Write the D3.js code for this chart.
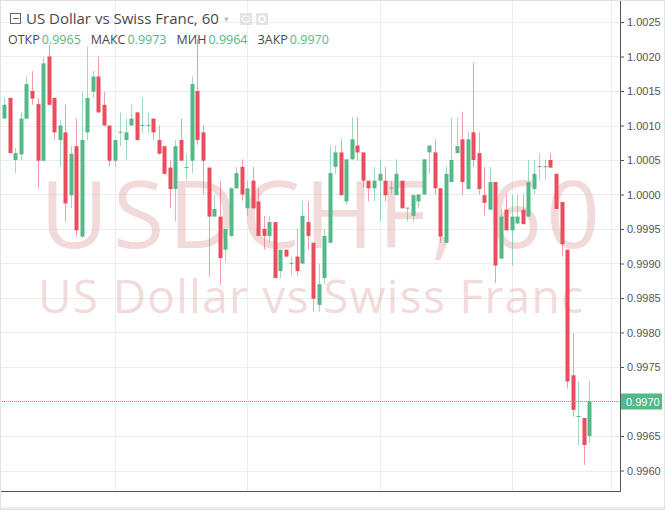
<!DOCTYPE html>
<html>
<head>
<meta charset="utf-8">
<script src="https://cdn.jsdelivr.net/npm/d3@7"></script>
<style>
  body { margin: 0; background: #fff; }
  svg { display: block; }
</style>
</head>
<body>
<div id="chart"></div>
<script>
// hourly USDCHF candles
const opens = [1.0011,1.0014,1.0005,1.00058,1.0011,1.0015,1.00131,1.00049,1.0020,1.0014,
  1.00079,1.0009,0.99999,1.0007,0.99939,1.0009,1.00149,1.00171,1.0013,1.0010,
  1.00049,1.0009,1.00079,1.0010,1.00119,1.0010,1.0010,1.0011,1.00079,1.0007,
  1.00039,1.00008,1.00079,1.00039,1.00049,1.0015,1.0009,1.00039,0.99968,0.99968,
  0.9992,0.9994,1.00009,1.0004,0.9998,1.0002,0.9999,0.9995,0.9994,0.9996,
  0.99889,0.9992,0.9990,0.9991,0.9990,0.9996,0.9993,0.9984,0.99879,0.9993,
  1.0004,1.00061,0.9999,1.00051,1.00071,1.00061,1.0002,1.00009,1.0002,1.0002,
  1.00009,0.99999,1.0002,0.9998,0.99969,0.9999,1.0,1.00061,1.00061,1.00009,
  0.9993,1.00018,1.0006,1.0008,1.00008,1.0009,1.0006,0.99999,0.99978,1.00018,
  0.99907,0.99978,0.99948,0.99958,0.99978,0.99968,1.00008,1.0004,1.0004,1.0005,
  1.0003,0.99989,0.9992,0.99738,0.99678,0.99676,0.9965];
const highs = [1.0014,1.0014,1.00068,1.0012,1.00171,1.00179,1.0014,1.00199,1.00217,1.0014,
  1.00108,1.0013,1.0007,1.0011,1.00149,1.00214,1.00179,1.0020,1.00149,1.0010,
  1.0008,1.00119,1.0011,1.0013,1.00119,1.0014,1.00119,1.0011,1.0010,1.0007,
  1.0005,1.00079,1.0011,1.00059,1.00171,1.00225,1.0010,1.00039,1.0000,1.0002,
  0.9995,1.0001,1.0004,1.00051,1.0002,1.0004,1.00009,0.99969,0.99969,0.9996,
  0.9992,0.9992,0.9991,0.9995,0.99991,0.9999,0.9993,0.9990,0.9995,1.00071,
  1.00071,1.0008,1.0005,1.00112,1.00112,1.00061,1.0002,1.0004,1.00051,1.0004,
  1.0002,1.00051,1.0002,0.9998,1.0,1.0,1.00051,1.00071,1.0008,1.00009,
  1.00041,1.00111,1.00111,1.0012,1.00091,1.00191,1.0009,1.0004,1.0004,1.00018,
  0.99979,1.0,1.0,1.0,1.0,1.0005,1.0005,1.0006,1.0005,1.0006,
  1.0003,0.99989,0.9992,0.99799,0.99729,0.99676,0.9973];
const lows = [1.0011,1.0006,1.00031,1.0005,1.00109,1.0013,1.00009,1.00048,1.00129,1.00079,
  1.00041,0.99961,0.9998,0.99939,0.99937,1.00079,1.0014,1.00118,1.00099,1.00041,
  1.0004,1.0007,1.0005,1.0010,1.00078,1.00089,1.00089,1.00079,1.00058,1.00029,
  0.9998,0.99961,1.00049,1.0002,1.00031,1.00072,1.0000,0.99881,0.99968,0.99869,
  0.99901,0.99938,1.00008,0.99991,0.99969,0.9998,0.9994,0.9992,0.9993,0.99879,
  0.99879,0.9991,0.99882,0.99882,0.99899,0.9992,0.9983,0.9983,0.9987,0.9993,
  1.0003,1.0,0.99985,1.0005,1.00049,1.0001,0.9999,0.9999,0.99961,0.9999,
  1.0,0.99999,0.9998,0.99961,0.99961,0.9998,1.0,1.0003,1.0,0.9993,
  0.9993,1.00018,1.0006,0.99999,1.00008,1.0004,1.0,0.9997,0.99978,0.99872,
  0.99907,0.99948,0.99897,0.99957,0.99957,0.99968,1.0,1.00021,1.00021,1.00039,
  0.99979,0.9991,0.99719,0.99678,0.99637,0.99608,0.9964];
const closes = [1.0013,1.0006,1.0006,1.0011,1.0016,1.00139,1.00049,1.0019,1.0013,1.0009,
  1.0010,0.99987,1.00059,0.99948,1.00079,1.0014,1.00171,1.00119,1.0010,1.00049,
  1.00079,1.00091,1.0009,1.0011,1.00079,1.00101,1.00101,1.0009,1.00059,1.0003,
  1.00008,1.0007,1.00049,1.0004,1.0016,1.00079,1.00049,0.99968,0.99979,0.99908,
  0.9995,1.00009,1.00031,1.0000,1.00009,0.9998,0.9994,0.9994,0.9996,0.99879,
  0.9992,0.9991,0.99901,0.99889,0.99969,0.9994,0.99849,0.9987,0.9994,1.00031,
  1.00061,0.99999,1.00051,1.0008,1.00061,1.0002,1.00009,1.0002,1.0003,0.99999,
  1.0001,1.0003,0.9998,0.99981,0.99999,1.0,1.00051,1.00071,1.00009,0.99939,
  1.0003,1.0005,1.0007,1.00018,1.0008,1.0005,1.00008,0.99988,1.00018,0.99897,
  0.99968,0.99948,0.99968,0.99968,0.99957,1.00018,1.0003,1.00041,1.00041,1.00039,
  0.99979,0.99928,0.99729,0.99688,0.99679,0.99637,0.9970];

const timeTickIdx = [20, 44, 68, 92, 110];
const timeTickLabels = ["22", "25", "26", "27", "18:00"];
const priceTicks = [0.9960,0.9965,0.9970,0.9975,0.9980,0.9985,0.9990,0.9995,
  1.0000,1.0005,1.0010,1.0015,1.0020,1.0025];
const legendNames = ["ОТКР", "МАКС", "МИН", "ЗАКР"];
const legendValues = ["0.9965", "0.9973", "0.9964", "0.9970"];
const lastPrice = 0.9970;

const width = 665, height = 510;
const paneW = 620, paneH = 491;
const up = "#53b987", down = "#eb4d5c";

const candles = opens.map((o, i) => ({ i, o, h: highs[i], l: lows[i], c: closes[i] }));

const svg = d3.select("#chart").append("svg").attr("width", width).attr("height", height)
  .style("font-family", "'Liberation Sans', Arial, sans-serif");

const x = d3.scaleLinear().domain([-0.8, 111.6]).range([0, paneW]);
const y = d3.scaleLinear().domain([0.9960, 1.0025]).range([470.5, 22]);

const defs = svg.append("defs");
defs.append("clipPath").attr("id", "pane")
  .append("rect").attr("width", paneW).attr("height", paneH);
defs.append("clipPath").attr("id", "timeclip")
  .append("rect").attr("x", 0).attr("y", paneH - 5).attr("width", paneW).attr("height", 30);

// grid
const grid = svg.append("g").attr("stroke", "#e9eef2").attr("shape-rendering", "crispEdges");
grid.selectAll(".h").data(priceTicks).enter().append("line")
  .attr("x1", 0).attr("x2", paneW)
  .attr("y1", d => Math.round(y(d)) + 0.5).attr("y2", d => Math.round(y(d)) + 0.5);
grid.selectAll(".v").data(timeTickIdx).enter().append("line")
  .attr("y1", 0).attr("y2", paneH)
  .attr("x1", d => Math.round(x(d)) + 0.5).attr("x2", d => Math.round(x(d)) + 0.5);

// watermark
const wm = svg.append("g").attr("fill", "#e8bcbc").attr("fill-opacity", 0.55)
  .style("font-family", "'Open Sans', sans-serif");
wm.append("text").attr("x", 40).attr("y", 248).attr("font-size", 94)
  .attr("textLength", 560).attr("lengthAdjust", "spacing").text("USDCHF, 60");
wm.append("text").attr("x", 38).attr("y", 313).attr("font-size", 46)
  .attr("textLength", 545).attr("lengthAdjust", "spacing").text("US Dollar vs Swiss Franc");

// candles
const bw = 4;
const cg = svg.append("g").attr("clip-path", "url(#pane)");
cg.selectAll(".wick").data(candles).enter().append("line")
  .attr("x1", d => Math.round(x(d.i)) + 0.5).attr("x2", d => Math.round(x(d.i)) + 0.5)
  .attr("y1", d => y(d.h)).attr("y2", d => y(d.l))
  .attr("stroke", d => d.c >= d.o ? up : down).attr("stroke-opacity", 0.55);
cg.selectAll(".body").data(candles).enter().append("rect")
  .attr("x", d => Math.round(x(d.i)) - bw / 2 + 0.5)
  .attr("width", bw)
  .attr("y", d => y(Math.max(d.o, d.c)))
  .attr("height", d => Math.max(1, Math.abs(y(d.o) - y(d.c))))
  .attr("fill", d => d.c >= d.o ? up : down);

// last price line
svg.append("line").attr("x1", 0).attr("x2", paneW)
  .attr("y1", Math.round(y(lastPrice)) + 0.5).attr("y2", Math.round(y(lastPrice)) + 0.5)
  .attr("stroke", up).attr("stroke-dasharray", "1,1");

// price axis
const yAxis = svg.append("g").attr("transform", `translate(${paneW},0)`)
  .call(d3.axisRight(y).tickValues(priceTicks).tickFormat(d3.format(".4f")).tickSize(4).tickPadding(3));
yAxis.select(".domain").remove();
yAxis.selectAll("line").attr("stroke", "#555");
yAxis.selectAll("text").attr("fill", "#555").attr("font-size", 11);

const lp = svg.append("g").attr("transform", `translate(${paneW},${y(lastPrice)})`);
lp.append("rect").attr("x", 1).attr("y", -8).attr("width", 41).attr("height", 16).attr("fill", up);
lp.append("text").attr("x", 6).attr("y", 4).attr("fill", "#fff").attr("font-size", 11).text("0.9970");

// time axis
const xAxis = svg.append("g").attr("transform", `translate(0,${paneH})`)
  .call(d3.axisBottom(x).tickValues(timeTickIdx).tickFormat((d, i) => timeTickLabels[i]).tickSize(4).tickPadding(3));
xAxis.select(".domain").remove();
xAxis.selectAll("line").attr("stroke", "#555");
xAxis.selectAll("text").attr("fill", "#4a4a4a").attr("font-size", 11).attr("font-weight", "bold");
xAxis.selectAll(".tick").filter((d, i) => i === timeTickIdx.length - 1)
  .select("text").attr("font-weight", "normal").attr("fill", "#999");
xAxis.attr("clip-path", "url(#timeclip)");

// axis borders
svg.append("line").attr("x1", paneW + 0.5).attr("x2", paneW + 0.5).attr("y1", 0).attr("y2", paneH + 0.5).attr("stroke", "#555");
svg.append("line").attr("x1", 0).attr("x2", paneW + 0.5).attr("y1", paneH + 0.5).attr("y2", paneH + 0.5).attr("stroke", "#555");
svg.append("rect").attr("x", 0).attr("y", 507).attr("width", width).attr("height", 3).attr("fill", "#eceff2");
svg.append("rect").attr("x", 0.5).attr("y", 0.5).attr("width", width - 1).attr("height", height - 1)
  .attr("fill", "none").attr("stroke", "#dfe3e8");

// header
const hd = svg.append("g").style("font-family", "'Open Sans', sans-serif");
hd.append("rect").attr("x", 10.5).attr("y", 13.5).attr("width", 10).attr("height", 10)
  .attr("fill", "#fff").attr("stroke", "#666");
hd.append("line").attr("x1", 13).attr("x2", 19).attr("y1", 18.5).attr("y2", 18.5).attr("stroke", "#666");
hd.append("text").attr("x", 26).attr("y", 24).attr("font-size", 15).attr("fill", "#4a4a4a")
  .text("US Dollar vs Swiss Franc, 60");
hd.append("text").attr("x", 224).attr("y", 22).attr("font-size", 9).attr("fill", "#bbb").text("▾");
[240, 256].forEach(bx => {
  hd.append("rect").attr("x", bx).attr("y", 13).attr("width", 12).attr("height", 12).attr("fill", "#e3e3e3");
});
hd.append("ellipse").attr("cx", 246).attr("cy", 19).attr("rx", 4).attr("ry", 3).attr("fill", "none").attr("stroke", "#fff");
hd.append("circle").attr("cx", 262).attr("cy", 19).attr("r", 3).attr("fill", "none").attr("stroke", "#fff").attr("stroke-width", 1.5);

const lg = hd.append("text").attr("x", 8).attr("y", 44).attr("font-size", 12.5);
legendNames.forEach((n, i) => {
  lg.append("tspan").attr("fill", "#4a4a4a").attr("dx", i ? 10 : 0).text(n);
  lg.append("tspan").attr("fill", up).attr("dx", 2).text(legendValues[i]);
});
</script>
</body>
</html>
